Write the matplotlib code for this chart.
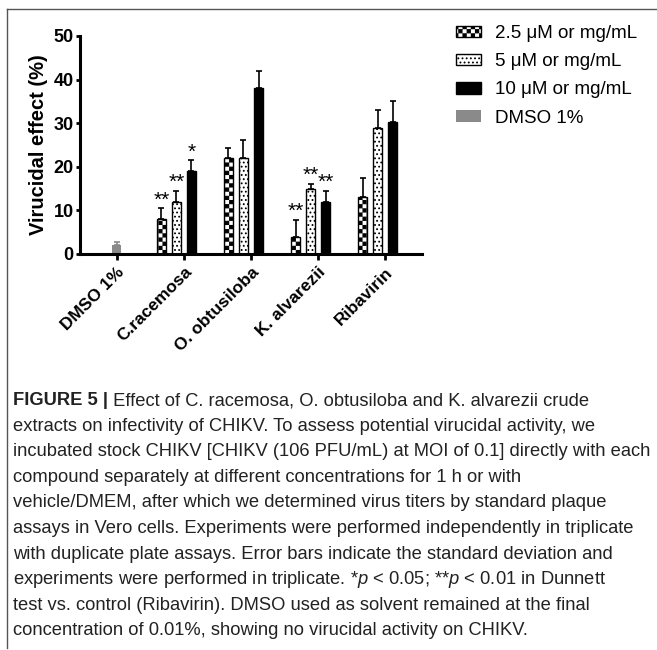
import warnings
import numpy as np
import matplotlib
matplotlib.use('Agg')
import matplotlib.pyplot as plt
from matplotlib import hatch as mhatch
from matplotlib.path import Path
from matplotlib.lines import Line2D
from matplotlib.text import Annotation

plt.rcParams['font.family'] = ['Liberation Sans', 'DejaVu Sans']
plt.rcParams['mathtext.fontset'] = 'custom'
plt.rcParams['mathtext.it'] = 'Liberation Sans:italic'
plt.rcParams['mathtext.rm'] = 'Liberation Sans'
plt.rcParams['hatch.linewidth'] = 0.8

# ---- data ----
groups = ['DMSO 1%', 'C.racemosa', 'O. obtusiloba', 'K. alvarezii', 'Ribavirin']
low = [8, 22, 4, 13]            # 2.5 uM or mg/mL
low_sd = [2.5, 2.4, 3.8, 4.5]
mid = [12, 22, 15, 29]          # 5 uM or mg/mL
mid_sd = [2.5, 4.1, 1.1, 4.0]
high = [19, 38, 12, 30.2]       # 10 uM or mg/mL
high_sd = [2.5, 4.0, 2.5, 5.0]
dmso = [2.1]
dmso_sd = [0.6]
low_stars = ['**', '', '**', '']
mid_stars = ['**', '', '**', '']
high_stars = ['*', '', '**', '']
series_labels = ['2.5 \u03bcM or mg/mL', '5 \u03bcM or mg/mL',
                 '10 \u03bcM or mg/mL', 'DMSO 1%']

caption = [
    'extracts on infectivity of CHIKV. To assess potential virucidal activity, we',
    'incubated stock CHIKV [CHIKV (106 PFU/mL) at MOI of 0.1] directly with each',
    'compound separately at different concentrations for 1 h or with',
    'vehicle/DMEM, after which we determined virus titers by standard plaque',
    'assays in Vero cells. Experiments were performed independently in triplicate',
    'with duplicate plate assays. Error bars indicate the standard deviation and',
    'experiments were performed in triplicate. *$\\it{p}$ < 0.05; **$\\it{p}$ < 0.01 in Dunnett',
    'test vs. control (Ribavirin). DMSO used as solvent remained at the final',
    'concentration of 0.01%, showing no virucidal activity on CHIKV.',
]


# checkerboard fill, matplotlib has no such hatch so add one ('c')
class CheckerHatch(mhatch.HatchPatternBase):
    def __init__(self, hatch, density):
        self.n = 2 * ((hatch.count('c') * density) // 2)
        self.num_vertices = self.n * self.n // 2 * 5

    def set_vertices_and_codes(self, vertices, codes):
        s = 1.0 / self.n
        d = 0.12 * s
        k = 0
        for i in range(self.n):
            for j in range(i % 2, self.n, 2):
                x0, y0 = j * s + d, i * s + d
                x1, y1 = (j + 1) * s - d, (i + 1) * s - d
                vertices[k:k + 5] = [[x0, y0], [x1, y0], [x1, y1], [x0, y1], [x0, y0]]
                codes[k:k + 5] = [Path.MOVETO, Path.LINETO, Path.LINETO,
                                  Path.LINETO, Path.CLOSEPOLY]
                k += 5


mhatch._hatch_types.append(CheckerHatch)
warnings.filterwarnings('ignore', message='hatch must consist')

fig = plt.figure(figsize=(6.57, 6.5), dpi=100)
ax = fig.add_axes([80 / 657, 1 - 254 / 650, 342 / 657, 218 / 650])

x = np.arange(1, len(groups))
step = 0.224
w = 0.135
kw = dict(width=w, edgecolor='black', linewidth=1.0, capsize=2.5,
          error_kw=dict(elinewidth=1.2, capthick=1.2, ecolor='black'))
zeros = np.zeros(len(x))

b1 = ax.bar(x - 1.5 * step, low, yerr=[zeros, low_sd], color='white', hatch='cccc', **kw)
b2 = ax.bar(x - 0.5 * step, mid, yerr=[zeros, mid_sd], color='white', hatch='....', **kw)
b3 = ax.bar(x + 0.5 * step, high, yerr=[zeros, high_sd], color='black', **kw)
b4 = ax.bar([0], dmso, yerr=[[0], dmso_sd], width=w, color='#8a8a8a', capsize=2.5,
            error_kw=dict(elinewidth=1.2, capthick=1.2, ecolor='#8a8a8a'))

for off, vals, sds, stars in [(-1.5, low, low_sd, low_stars),
                              (-0.5, mid, mid_sd, mid_stars),
                              (0.5, high, high_sd, high_stars)]:
    for xi, v, sd, st in zip(x, vals, sds, stars):
        if st:
            ax.text(xi + off * step, v + sd - 0.3, st, ha='center', va='bottom',
                    fontsize=15)

ax.set_xlim(-0.55, 4.55)
ax.set_ylim(0, 50)
ax.set_yticks(np.arange(0, 51, 10))
ax.set_xticks(range(len(groups)))
ax.set_xticklabels(groups, rotation=45, ha='right', rotation_mode='anchor',
                   fontweight='bold', fontsize=12.5)
for lab in ax.get_yticklabels():
    lab.set_fontweight('bold')
    lab.set_fontsize(13)
ax.set_ylabel('Virucidal effect (%)', fontsize=14.5, fontweight='bold', labelpad=4)
for side in ['top', 'right']:
    ax.spines[side].set_visible(False)
for side in ['left', 'bottom']:
    ax.spines[side].set_linewidth(2.2)
ax.tick_params(axis='y', width=2, length=3, pad=1.5)
ax.tick_params(axis='x', width=2, length=4.5, pad=3)

fig.legend([b1, b2, b3, b4], series_labels, loc='upper left',
           bbox_to_anchor=(456 / 657, 1 - 25 / 650), frameon=False,
           fontsize=13.5, handlelength=1.35, handleheight=0.55,
           handletextpad=0.75, labelspacing=0.6, borderpad=0, borderaxespad=0)

# frame lines of the figure panel
fig.add_artist(Line2D([7 / 657, 1], [1 - 9 / 650] * 2, color='#555555', lw=1))
fig.add_artist(Line2D([7 / 657] * 2, [1 - 9 / 650, 1 - 648 / 650], color='#555555', lw=1))

# caption
cap_x = 13 / 657
cap_size = 13.2
t0 = fig.text(cap_x, 1 - 405 / 650, 'FIGURE 5 |', fontsize=cap_size,
              fontweight='bold', va='baseline', color='#222222')
fig.add_artist(Annotation(' Effect of C. racemosa, O. obtusiloba and K. alvarezii crude',
                          xy=(1, 0), xycoords=t0, va='bottom', fontsize=cap_size,
                          color='#222222'))
for i, line in enumerate(caption):
    fig.text(cap_x, 1 - (405 + 25.6 * (i + 1)) / 650, line, fontsize=cap_size,
             va='baseline', color='#222222')

fig.savefig('out.png', dpi=100)
